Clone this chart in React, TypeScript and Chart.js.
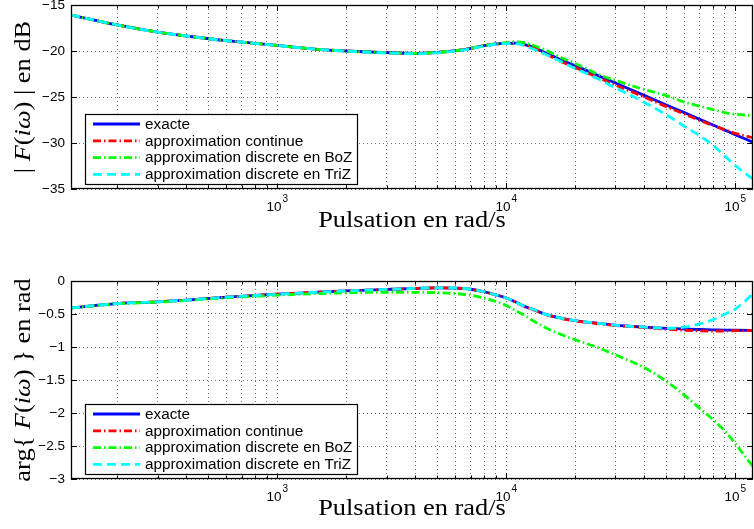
import React, { useEffect, useRef } from "react";
import { Chart, registerables } from "chart.js";

Chart.register(...registerables);

// ---------- data ----------
const omega = [125.7, 200, 300, 400, 600, 800, 1000, 1500, 2000, 3000, 4000, 5000, 6000, 7000, 8000, 9000, 10000, 11000, 12000, 13000, 15000, 17500, 20000, 25000, 30000, 40000, 50000, 60000, 70000, 80000, 90000, 100000, 120000];

const magExacte = [-16.09, -17.17, -17.95, -18.37, -18.88, -19.17, -19.4, -19.82, -20.0, -20.18, -20.25, -20.15, -19.97, -19.71, -19.42, -19.24, -19.17, -19.15, -19.3, -19.55, -20.24, -21.0, -21.59, -22.63, -23.48, -24.82, -25.87, -26.7, -27.43, -28.04, -28.6, -29.1, -29.93];
const magContinue = [-16.09, -17.17, -17.95, -18.37, -18.88, -19.17, -19.4, -19.82, -20.0, -20.18, -20.25, -20.15, -19.97, -19.71, -19.42, -19.24, -19.17, -19.15, -19.3, -19.6, -20.35, -21.2, -21.8, -22.85, -23.7, -25.0, -26.05, -26.85, -27.55, -28.1, -28.55, -28.95, -29.45];
const magBoZ = [-16.09, -17.17, -17.95, -18.37, -18.88, -19.17, -19.4, -19.82, -20.0, -20.18, -20.25, -20.15, -19.97, -19.71, -19.42, -19.22, -19.1, -19.0, -19.1, -19.35, -19.95, -20.75, -21.35, -22.5, -23.2, -24.18, -24.85, -25.55, -26.0, -26.37, -26.69, -26.87, -27.05];
const magTriZ = [-16.09, -17.17, -17.95, -18.37, -18.88, -19.17, -19.4, -19.82, -20.02, -20.22, -20.3, -20.2, -20.02, -19.76, -19.47, -19.28, -19.2, -19.2, -19.4, -19.75, -20.4, -21.2, -21.9, -23.0, -24.0, -25.56, -26.93, -28.18, -29.22, -30.25, -31.4, -32.45, -33.95];

const phaseExacte = [-0.408, -0.342, -0.315, -0.29, -0.245, -0.22, -0.2, -0.17, -0.15, -0.128, -0.113, -0.103, -0.108, -0.125, -0.163, -0.21, -0.257, -0.318, -0.385, -0.425, -0.51, -0.565, -0.6, -0.64, -0.67, -0.7, -0.718, -0.728, -0.735, -0.74, -0.744, -0.746, -0.75];
const phaseContinue = [-0.408, -0.342, -0.315, -0.29, -0.245, -0.22, -0.2, -0.17, -0.15, -0.128, -0.113, -0.103, -0.108, -0.125, -0.163, -0.21, -0.257, -0.318, -0.385, -0.43, -0.515, -0.57, -0.605, -0.645, -0.675, -0.705, -0.73, -0.745, -0.755, -0.758, -0.757, -0.752, -0.75];
const phaseBoZ = [-0.41, -0.345, -0.32, -0.295, -0.255, -0.232, -0.215, -0.19, -0.178, -0.172, -0.172, -0.178, -0.19, -0.215, -0.26, -0.31, -0.37, -0.45, -0.52, -0.595, -0.715, -0.815, -0.89, -1.005, -1.12, -1.31, -1.52, -1.73, -1.93, -2.1, -2.27, -2.46, -2.82];
const phaseTriZ = [-0.408, -0.342, -0.315, -0.29, -0.245, -0.22, -0.2, -0.17, -0.15, -0.128, -0.113, -0.103, -0.108, -0.125, -0.163, -0.21, -0.257, -0.318, -0.385, -0.425, -0.51, -0.565, -0.6, -0.64, -0.67, -0.7, -0.716, -0.7, -0.65, -0.587, -0.504, -0.426, -0.19];

const X_MIN = 125.66;
const X_MAX = 119600;
const xMajorTicks = [1000, 10000, 100000];
const xMajorExponents = ["3", "4", "5"];
const xMinorMultipliers = [2, 3, 4, 5, 6, 7, 8, 9];
const xDecades = [100, 1000, 10000, 100000];
const magTicks = [-35, -30, -25, -20, -15];
const phaseTicks = [-3, -2.5, -2, -1.5, -1, -0.5, 0];

const legendLabels = [
  "exacte",
  "approximation continue",
  "approximation discrete en BoZ",
  "approximation discrete en TriZ",
];
const seriesColors = ["#0000ff", "#ff0000", "#00ff00", "#00ffff"];
const seriesDash = [[], [8, 3, 1.5, 3], [8, 3, 1.5, 3], [9, 5]];
const seriesWidth = [2.8, 2.8, 2.8, 2.8];

const xTitle = "Pulsation en rad/s";
const magTitle = [
  { t: "| ", it: false },
  { t: "F", it: true },
  { t: "(", it: false },
  { t: "iω", it: true },
  { t: ")", it: false },
  { t: " | en dB", it: false },
];
const phaseTitle = [
  { t: "arg{ ", it: false },
  { t: "F", it: true },
  { t: "(", it: false },
  { t: "iω", it: true },
  { t: ")", it: false },
  { t: " } en rad", it: false },
];

const SANS = "'Liberation Sans', Arial, Helvetica, sans-serif";
const SERIF = "'Liberation Serif', 'Times New Roman', serif";

function fmtTick(v: number): string {
  if (v === 0) return "0";
  return (v < 0 ? "\u2212" : "") + String(Math.abs(v));
}

function allXTicks(): number[] {
  const out: number[] = [];
  for (const d of xDecades) {
    for (const m of [1, ...xMinorMultipliers]) {
      const v = m * d;
      if (v > X_MIN && v < X_MAX) out.push(v);
    }
  }
  return out;
}

type Params = {
  series: number[][];
  yMin: number;
  yMax: number;
  yTicks: number[];
  areaTop: number;
  areaBottom: number;
  height: number;
  yTitle: { t: string; it: boolean }[];
  titleOffset: number;
};

function buildChart(canvas: HTMLCanvasElement, p: Params) {
  const xt = allXTicks();
  const decor = {
    id: "matlabDecor",
    afterDraw(chart: any) {
      const ctx = chart.ctx as CanvasRenderingContext2D;
      const a = chart.chartArea;
      const xs = chart.scales.x;
      const ys = chart.scales.y;
      ctx.save();
      ctx.setLineDash([]);
      // tick marks inside the frame
      ctx.strokeStyle = "#000";
      ctx.lineWidth = 1;
      ctx.beginPath();
      for (const v of xt) {
        const px = Math.round(xs.getPixelForValue(v)) + 0.5;
        const len = xMajorTicks.includes(v) ? 6 : 3.5;
        ctx.moveTo(px, a.bottom);
        ctx.lineTo(px, a.bottom - len);
        ctx.moveTo(px, a.top);
        ctx.lineTo(px, a.top + len);
      }
      for (const v of p.yTicks) {
        const py = Math.round(ys.getPixelForValue(v)) + 0.5;
        ctx.moveTo(a.left, py);
        ctx.lineTo(a.left + 6, py);
        ctx.moveTo(a.right, py);
        ctx.lineTo(a.right - 6, py);
      }
      ctx.stroke();
      // frame
      ctx.lineWidth = 1.3;
      ctx.strokeRect(a.left + 0.5, a.top + 0.5, a.right - a.left - 1, a.bottom - a.top - 1);

      // x tick labels 10^n
      ctx.fillStyle = "#000";
      ctx.textBaseline = "alphabetic";
      ctx.textAlign = "left";
      xMajorTicks.forEach((v, i) => {
        const px = xs.getPixelForValue(v);
        ctx.font = `13.5px ${SANS}`;
        const w1 = ctx.measureText("10").width;
        ctx.font = `10px ${SANS}`;
        const w2 = ctx.measureText(xMajorExponents[i]).width;
        const x0 = px - (w1 + w2 + 1) / 2;
        ctx.font = `13.5px ${SANS}`;
        ctx.fillText("10", x0, a.bottom + 21.5);
        ctx.font = `10px ${SANS}`;
        ctx.fillText(xMajorExponents[i], x0 + w1 + 1, a.bottom + 13);
      });

      // x title (slightly widened like the reference's TeX font)
      ctx.save();
      ctx.font = `24px ${SERIF}`;
      ctx.textAlign = "center";
      ctx.translate((a.left + a.right) / 2, a.bottom + p.titleOffset);
      ctx.scale(1.1, 1);
      ctx.fillText(xTitle, 0, 0);
      ctx.restore();

      // y title (rotated, with italics)
      const segs = p.yTitle;
      const fontFor = (it: boolean) => `${it ? "italic " : ""}24px ${SERIF}`;
      let total = 0;
      const widths = segs.map((s) => {
        ctx.font = fontFor(s.it);
        const w = ctx.measureText(s.t).width;
        total += w;
        return w;
      });
      ctx.save();
      ctx.translate(30, (a.top + a.bottom) / 2);
      ctx.rotate(-Math.PI / 2);
      ctx.scale(1.1, 1);
      ctx.textAlign = "left";
      let cx = -total / 2;
      segs.forEach((s, i) => {
        ctx.font = fontFor(s.it);
        ctx.fillText(s.t, cx, 0);
        cx += widths[i];
      });
      ctx.restore();

      // legend
      const bx = a.left + 14;
      const bw = 272;
      const bh = 70;
      const by = a.bottom - 5.5 - bh;
      ctx.fillStyle = "#fff";
      ctx.fillRect(bx, by, bw, bh);
      ctx.strokeStyle = "#000";
      ctx.lineWidth = 1.2;
      ctx.strokeRect(Math.round(bx) + 0.5, Math.round(by) + 0.5, bw, bh);
      ctx.font = `15.3px ${SANS}`;
      ctx.textAlign = "left";
      ctx.textBaseline = "middle";
      legendLabels.forEach((lab, i) => {
        const yy = by + 10.5 + i * 16.8;
        ctx.strokeStyle = seriesColors[i];
        ctx.lineWidth = seriesWidth[i];
        ctx.setLineDash(seriesDash[i]);
        ctx.beginPath();
        ctx.moveTo(bx + 8, yy);
        ctx.lineTo(bx + 55, yy);
        ctx.stroke();
        ctx.setLineDash([]);
        ctx.fillStyle = "#000";
        ctx.fillText(lab, bx + 60, yy + 0.5);
      });
      ctx.restore();
    },
  };

  const datasets = p.series.map((arr, i) => ({
    label: legendLabels[i],
    data: omega.map((w, k) => ({ x: w, y: arr[k] })),
    borderColor: seriesColors[i],
    backgroundColor: seriesColors[i],
    borderWidth: seriesWidth[i],
    borderDash: seriesDash[i],
    borderCapStyle: "butt",
    pointRadius: 0,
    fill: false,
    cubicInterpolationMode: "monotone",
    order: 4 - i,
  }));

  return new Chart(canvas, {
    type: "line",
    data: { datasets },
    plugins: [decor],
    options: {
      animation: false,
      responsive: false,
      maintainAspectRatio: false,
      events: [],
      layout: { padding: { left: 0, right: 1, top: p.areaTop, bottom: 0 } },
      plugins: { legend: { display: false }, tooltip: { enabled: false } },
      scales: {
        x: {
          type: "logarithmic",
          min: X_MIN,
          max: X_MAX,
          afterBuildTicks: (s: any) => {
            s.ticks = xt.map((v) => ({ value: v }));
          },
          afterFit: (s: any) => {
            s.height = p.height - p.areaBottom;
            s.paddingLeft = 0;
            s.paddingRight = 0;
            s.paddingTop = 0;
            s.paddingBottom = 0;
          },
          ticks: { display: false, autoSkip: false },
          grid: { display: true, drawTicks: false, color: "rgba(0,0,0,0.55)", lineWidth: 1 },
          border: { display: false, dash: [1, 3] },
        },
        y: {
          type: "linear",
          min: p.yMin,
          max: p.yMax,
          afterBuildTicks: (s: any) => {
            s.ticks = p.yTicks.map((v) => ({ value: v }));
          },
          afterFit: (s: any) => {
            s.width = 71;
            s.paddingTop = 0;
            s.paddingBottom = 0;
            s.paddingLeft = 0;
            s.paddingRight = 0;
          },
          ticks: {
            autoSkip: false,
            padding: 6,
            color: "#000",
            font: { family: SANS, size: 13.5 },
            callback: (v: any) => fmtTick(Number(v)),
          },
          grid: { display: true, drawTicks: false, color: "rgba(0,0,0,0.55)", lineWidth: 1 },
          border: { display: false, dash: [1, 3] },
        },
      },
    },
  } as any);
}

export default function App() {
  const topRef = useRef<HTMLCanvasElement>(null);
  const botRef = useRef<HTMLCanvasElement>(null);

  useEffect(() => {
    document.body.style.margin = "0";
    const c1 = buildChart(topRef.current!, {
      series: [magExacte, magContinue, magBoZ, magTriZ],
      yMin: -35,
      yMax: -15,
      yTicks: magTicks,
      areaTop: 5,
      areaBottom: 189,
      height: 265,
      yTitle: magTitle,
      titleOffset: 38,
    });
    const c2 = buildChart(botRef.current!, {
      series: [phaseExacte, phaseContinue, phaseBoZ, phaseTriZ],
      yMin: -3,
      yMax: 0,
      yTicks: phaseTicks,
      areaTop: 16,
      areaBottom: 214,
      height: 264,
      yTitle: phaseTitle,
      titleOffset: 36,
    });
    return () => {
      c1.destroy();
      c2.destroy();
    };
  }, []);

  return (
    <div style={{ width: 754, height: 529, background: "#fff", position: "relative" }}>
      <canvas ref={topRef} width={754} height={265} style={{ display: "block", width: 754, height: 265 }} />
      <canvas ref={botRef} width={754} height={264} style={{ display: "block", width: 754, height: 264 }} />
    </div>
  );
}
